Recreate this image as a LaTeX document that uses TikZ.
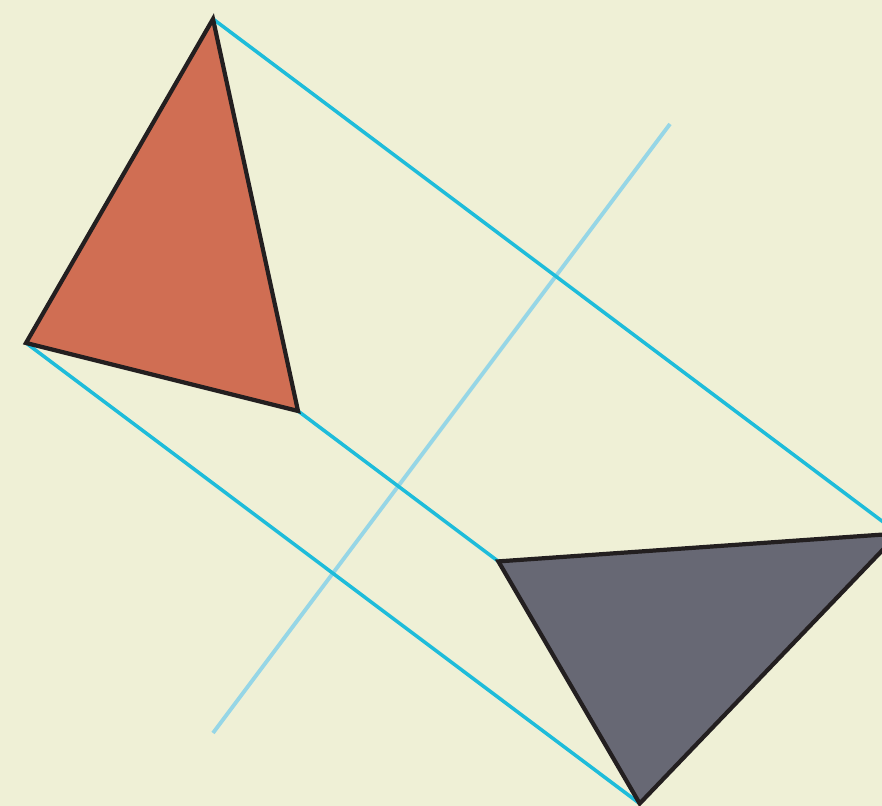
\documentclass[tikz,border=0pt]{standalone}
\usepackage{tikz}
\usetikzlibrary{calc}
\definecolor{paper}{RGB}{239,240,214}
\definecolor{brick}{RGB}{208,110,83}
\definecolor{slate}{RGB}{103,104,116}
\definecolor{raycyan}{RGB}{30,188,218}
\definecolor{mirrorblue}{RGB}{150,214,230}
\definecolor{edge}{RGB}{35,31,32}

\begin{document}
\begin{tikzpicture}[x=1cm,y=1cm]
    \clip (0,0) rectangle (8.82,8.06);
    \fill[paper] (0,0) rectangle (8.82,8.06);
    % mirror line and original triangle
    \coordinate (P) at (2.13,0.73); \coordinate (Q) at (6.70,6.82);
    \coordinate (A) at (2.13,7.87); \coordinate (B) at (0.26,4.63); \coordinate (C) at (2.98,3.95);
    % reflected vertices
    \foreach \v in {A,B,C} \coordinate (\v r) at ($(\v)!2!($(P)!(\v)!(Q)$)$);
    \draw[mirrorblue,line width=1.1pt] (P)--(Q);
    \foreach \v in {A,B,C} \draw[raycyan,line width=1pt] (\v)--(\v r);
    \filldraw[fill=brick,draw=edge,line width=1.2pt] (A)--(B)--(C)--cycle;
    \filldraw[fill=slate,draw=edge,line width=1.2pt] (Ar)--(Br)--(Cr)--cycle;
\end{tikzpicture}
\end{document}
